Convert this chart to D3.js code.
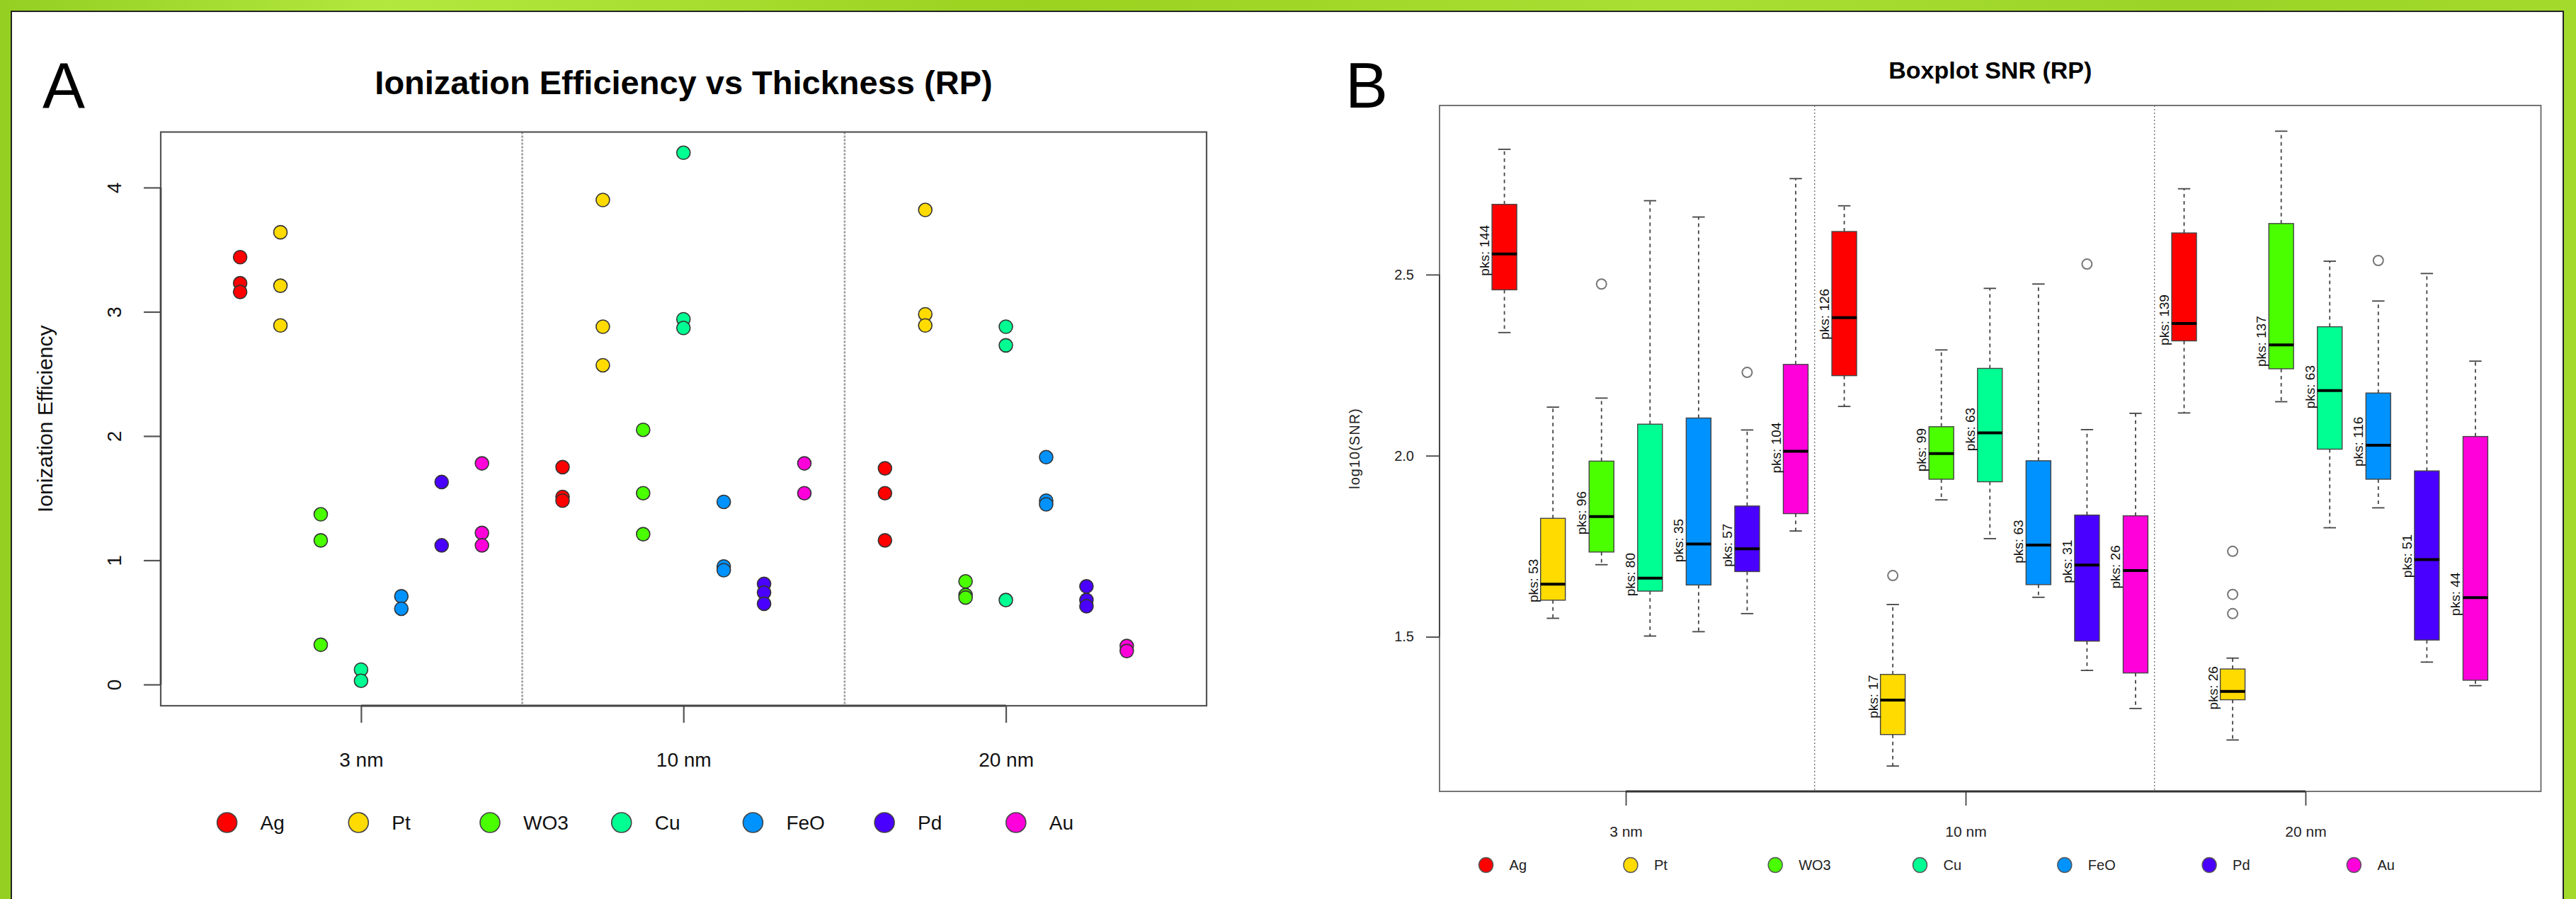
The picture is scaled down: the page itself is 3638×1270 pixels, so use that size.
<!DOCTYPE html>
<html><head><meta charset="utf-8">
<script src="https://cdn.jsdelivr.net/npm/d3@7"></script>
<style>body{margin:0;background:#fff;} svg{display:block} text{font-family:"Liberation Sans",Arial,sans-serif;}</style>
</head><body>
<svg id="c" width="3638" height="1270"></svg>
<script>
// ---------- data ----------
const materials = ["Ag","Pt","WO3","Cu","FeO","Pd","Au"];
const colors = ["#FF0000","#FFDB00","#49FF00","#00FF92","#0092FF","#4900FF","#FF00DB"];
const thicknesses = ["3 nm","10 nm","20 nm"];
const ieTicks = [0,1,2,3,4];
const snrTicks = [1.5,2.0,2.5];

// Ionization efficiency: one list of replicate values per material
const ie3nm  = [[3.44,3.23,3.16],[3.64,3.21,2.89],[1.37,1.16,0.32],[0.12,0.03],[0.71,0.61],[1.63,1.12],[1.78,1.22,1.12]];
const ie10nm = [[1.75,1.51,1.48],[3.90,2.88,2.57],[2.05,1.54,1.21],[4.28,2.94,2.87],[1.47,0.95,0.92],[0.81,0.74,0.65],[1.78,1.54]];
const ie20nm = [[1.74,1.54,1.16],[3.82,2.98,2.89],[0.83,0.72,0.70],[2.88,2.73,0.68],[1.83,1.48,1.45],[0.79,0.68,0.63],[0.31,0.27]];

// log10(SNR) boxplots: [lower whisker, Q1, median, Q3, upper whisker]
const snr3nm  = [[2.340,2.458,2.557,2.694,2.846],[1.551,1.601,1.645,1.827,2.134],[1.699,1.734,1.832,1.985,2.159],[1.502,1.626,1.662,2.087,2.704],[1.514,1.643,1.756,2.104,2.659],[1.564,1.680,1.743,1.861,2.071],[1.792,1.840,2.012,2.252,2.765]];
const snr10nm = [[2.136,2.221,2.381,2.619,2.690],[1.143,1.230,1.325,1.396,1.589],[1.878,1.935,2.006,2.080,2.292],[1.771,1.928,2.063,2.241,2.462],[1.609,1.644,1.753,1.986,2.474],[1.407,1.488,1.698,1.836,2.072],[1.302,1.400,1.683,1.834,2.117]];
const snr20nm = [[2.118,2.317,2.365,2.615,2.737],[1.215,1.326,1.349,1.411,1.441],[2.149,2.240,2.306,2.641,2.896],[1.801,2.018,2.180,2.356,2.537],[1.856,1.935,2.029,2.173,2.427],[1.430,1.491,1.713,1.958,2.503],[1.365,1.380,1.608,2.053,2.261]];
const out3nm  = [[],[],[2.474],[],[],[2.230],[]];
const out10nm = [[],[1.669],[],[],[],[2.529],[]];
const out20nm = [[],[1.736,1.617,1.564],[],[],[2.539],[],[]];
const pks3nm  = [144,53,96,80,35,57,104];
const pks10nm = [126,17,99,63,63,31,26];
const pks20nm = [139,26,137,63,116,51,44];

const ieData = [ie3nm, ie10nm, ie20nm];
const snrData = [snr3nm, snr10nm, snr20nm];
const outData = [out3nm, out10nm, out20nm];
const pksData = [pks3nm, pks10nm, pks20nm];

// ---------- canvas ----------
const svg = d3.select("#c");
const defs = svg.append("defs");
const grad = defs.append("linearGradient").attr("id","bg").attr("x1","0").attr("x2","1").attr("y1","0").attr("y2","0");
[["0%","#94cf22"],["15%","#b3e83e"],["40%","#9ad21f"],["65%","#a9df33"],["85%","#9bd426"],["100%","#a3da2c"]]
  .forEach(s=>grad.append("stop").attr("offset",s[0]).attr("stop-color",s[1]));
svg.append("rect").attr("width",3638).attr("height",1270).attr("fill","url(#bg)");
svg.append("rect").attr("x",16).attr("y",16).attr("width",3604).attr("height",1280)
  .attr("fill","#fff").attr("stroke","#222").attr("stroke-width",2);

const nM = materials.length;

// =============== Panel A ===============
const A = {l:227, r:1704, t:186.5, b:997};
const xA = d3.scaleLinear().domain([-0.97, 24.98]).range([A.l, A.r]);
const yA = d3.scaleLinear().domain([-0.171, 4.447]).range([A.b, A.t]);
const slotA = (g,i) => g*(nM+1) + i + 1;
const centerA = g => g*(nM+1) + (nM+1)/2;

const gA = svg.append("g");
gA.append("text").attr("x",60).attr("y",152).attr("font-size",90).attr("fill","#000").text("A");
gA.append("text").attr("x",(A.l+A.r)/2).attr("y",133).attr("text-anchor","middle")
  .attr("font-size",47).attr("font-weight","bold").text("Ionization Efficiency vs Thickness (RP)");

// dividers
[1,2].forEach(g=>{
  const x = xA(g*(nM+1));
  gA.append("line").attr("x1",x).attr("x2",x).attr("y1",A.t).attr("y2",A.b)
    .attr("stroke","#9a9a9a").attr("stroke-width",2.5).attr("stroke-dasharray","3,2");
});
gA.append("rect").attr("x",A.l).attr("y",A.t).attr("width",A.r-A.l).attr("height",A.b-A.t)
  .attr("fill","none").attr("stroke","#555").attr("stroke-width",2.2);

// y axis
const ayA = gA.append("g").attr("transform",`translate(${A.l},0)`)
  .call(d3.axisLeft(yA).tickValues(ieTicks).tickSize(24).tickFormat(d3.format("d")));
ayA.select(".domain").remove();
ayA.selectAll("line").attr("stroke","#555").attr("stroke-width",2.2);
ayA.selectAll("text").attr("transform","rotate(-90)").attr("x",0).attr("y",-56).attr("dy",0)
  .attr("text-anchor","middle").attr("font-size",28).attr("fill","#111")
  .attr("font-family",'"Liberation Sans",Arial,sans-serif');
gA.append("line").attr("x1",A.l).attr("x2",A.l).attr("y1",yA(0)).attr("y2",yA(4)).attr("stroke","#444").attr("stroke-width",2.6);
gA.append("text").attr("transform",`translate(74,${(A.t+A.b)/2}) rotate(-90)`).attr("text-anchor","middle")
  .attr("font-size",30).attr("fill","#111").text("Ionization Efficiency");

// x axis
const axA = gA.append("g").attr("transform",`translate(0,${A.b})`)
  .call(d3.axisBottom(xA).tickValues(thicknesses.map((t,g)=>centerA(g))).tickSize(24).tickFormat((d,i)=>thicknesses[i]));
axA.select(".domain").remove();
axA.selectAll("line").attr("stroke","#555").attr("stroke-width",2.2);
axA.selectAll("text").attr("y",86).attr("dy",0).attr("font-size",28).attr("fill","#111")
  .attr("font-family",'"Liberation Sans",Arial,sans-serif');
gA.append("line").attr("x1",xA(centerA(0))).attr("x2",xA(centerA(2))).attr("y1",A.b).attr("y2",A.b).attr("stroke","#444").attr("stroke-width",2.8);

// points
const ptsA = [];
ieData.forEach((grp,g)=>grp.forEach((vals,i)=>vals.forEach(v=>ptsA.push({g,i,v}))));
gA.selectAll("circle.pt").data(ptsA).enter().append("circle").attr("class","pt")
  .attr("cx",d=>xA(slotA(d.g,d.i))).attr("cy",d=>yA(d.v)).attr("r",9.5)
  .attr("fill",d=>colors[d.i]).attr("stroke","#333").attr("stroke-width",1.6);

// legend
const legA = gA.append("g");
materials.forEach((m,i)=>{
  const cx = 320.6 + i*185.7;
  legA.append("circle").attr("cx",cx).attr("cy",1162).attr("r",14).attr("fill",colors[i]).attr("stroke","#444").attr("stroke-width",1.6);
  legA.append("text").attr("x",cx+47).attr("y",1172).attr("font-size",28).attr("fill","#111").text(m);
});

// =============== Panel B ===============
const B = {l:2033, r:3588.5, t:149, b:1118};
const xB = d3.scaleLinear().domain([-0.336, 22.35]).range([B.l, B.r]);
const yB = d3.scaleLinear().domain([1.073, 2.967]).range([B.b, B.t]);
const slotB = (g,i) => g*nM + i + 1;
const tickB = g => g*nM + (nM)/2;
const boxW = xB(0.51) - xB(0);

const gB = svg.append("g");
gB.append("text").attr("x",1900).attr("y",152).attr("font-size",90).attr("fill","#000").text("B");
gB.append("text").attr("x",(B.l+B.r)/2).attr("y",111).attr("text-anchor","middle")
  .attr("font-size",34).attr("font-weight","bold").text("Boxplot SNR (RP)");

[1,2].forEach(g=>{
  const x = xB(g*nM + 0.39);
  gB.append("line").attr("x1",x).attr("x2",x).attr("y1",B.t).attr("y2",B.b)
    .attr("stroke","#777").attr("stroke-width",1.4).attr("stroke-dasharray","2,3");
});
gB.append("rect").attr("x",B.l).attr("y",B.t).attr("width",B.r-B.l).attr("height",B.b-B.t)
  .attr("fill","none").attr("stroke","#666").attr("stroke-width",1.8);

const ayB = gB.append("g").attr("transform",`translate(${B.l},0)`)
  .call(d3.axisLeft(yB).tickValues(snrTicks).tickSize(19).tickPadding(17).tickFormat(d3.format(".1f")));
ayB.select(".domain").remove();
ayB.selectAll("line").attr("stroke","#444").attr("stroke-width",1.8);
ayB.selectAll("text").attr("font-size",20).attr("fill","#222").attr("font-family",'"Liberation Sans",Arial,sans-serif');
gB.append("line").attr("x1",B.l).attr("x2",B.l).attr("y1",yB(1.5)).attr("y2",yB(2.5)).attr("stroke","#444").attr("stroke-width",2);
gB.append("text").attr("transform",`translate(1920,${(B.t+B.b)/2}) rotate(-90)`).attr("text-anchor","middle")
  .attr("font-size",20).attr("letter-spacing",1).attr("fill","#222").text("log10(SNR)");

const axB = gB.append("g").attr("transform",`translate(0,${B.b})`)
  .call(d3.axisBottom(xB).tickValues(thicknesses.map((t,g)=>tickB(g))).tickSize(20).tickFormat((d,i)=>thicknesses[i]));
axB.select(".domain").remove();
axB.selectAll("line").attr("stroke","#444").attr("stroke-width",1.8);
axB.selectAll("text").attr("y",64).attr("dy",0).attr("font-size",21).attr("fill","#222").attr("font-family",'"Liberation Sans",Arial,sans-serif');
gB.append("line").attr("x1",xB(tickB(0))).attr("x2",xB(tickB(2))).attr("y1",B.b).attr("y2",B.b).attr("stroke","#333").attr("stroke-width",3);

// boxes
const boxes = [];
snrData.forEach((grp,g)=>grp.forEach((s,i)=>boxes.push({g,i,s,out:outData[g][i],pks:pksData[g][i]})));
const bx = gB.selectAll("g.box").data(boxes).enter().append("g").attr("class","box");
bx.each(function(d){
  const el = d3.select(this);
  const cx = xB(slotB(d.g,d.i));
  const [lo,q1,md,q3,hi] = d.s;
  // whiskers
  el.append("line").attr("x1",cx).attr("x2",cx).attr("y1",yB(q3)).attr("y2",yB(hi))
    .attr("stroke","#444").attr("stroke-width",1.8).attr("stroke-dasharray","5,5");
  el.append("line").attr("x1",cx).attr("x2",cx).attr("y1",yB(q1)).attr("y2",yB(lo))
    .attr("stroke","#444").attr("stroke-width",1.8).attr("stroke-dasharray","5,5");
  [lo,hi].forEach(v=>el.append("line").attr("x1",cx-boxW/4).attr("x2",cx+boxW/4).attr("y1",yB(v)).attr("y2",yB(v))
    .attr("stroke","#444").attr("stroke-width",1.8));
  el.append("rect").attr("x",cx-boxW/2).attr("width",boxW).attr("y",yB(q3)).attr("height",yB(q1)-yB(q3))
    .attr("fill",colors[d.i]).attr("stroke","#444").attr("stroke-width",1.4);
  el.append("line").attr("x1",cx-boxW/2).attr("x2",cx+boxW/2).attr("y1",yB(md)).attr("y2",yB(md))
    .attr("stroke","#000").attr("stroke-width",4);
  d.out.forEach(v=>el.append("circle").attr("cx",cx).attr("cy",yB(v)).attr("r",7)
    .attr("fill","none").attr("stroke","#777").attr("stroke-width",2));
  el.append("text").attr("transform",`translate(${cx-boxW/2-4},${yB(md)-5}) rotate(-90)`)
    .attr("text-anchor","middle").attr("font-size",19).attr("fill","#111").text("pks: "+d.pks);
});

// legend
const legB = gB.append("g");
materials.forEach((m,i)=>{
  const cx = 2098.6 + i*204.3;
  legB.append("ellipse").attr("cx",cx).attr("cy",1222).attr("rx",10).attr("ry",10.5).attr("fill",colors[i]).attr("stroke","#555").attr("stroke-width",1.4);
  legB.append("text").attr("x",cx+33).attr("y",1229).attr("font-size",20).attr("fill","#222").text(m);
});
</script>
</body></html>
